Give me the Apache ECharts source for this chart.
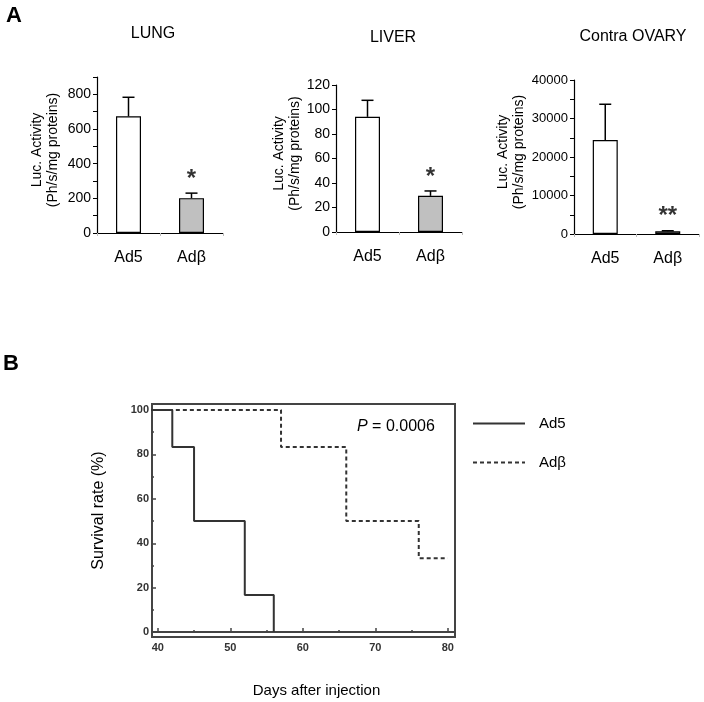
<!DOCTYPE html>
<html>
<head>
<meta charset="utf-8">
<script src="https://cdn.jsdelivr.net/npm/echarts@6/dist/echarts.min.js"></script>
<style>html,body{margin:0;padding:0;background:#fff;}#c{width:704px;height:702px;}</style>
</head>
<body>
<div id="c"></div>
<script>
// ---- data ----
const groups = ['Ad5', 'Adβ'];
const lungMean = [673, 201];
const lungErr = [783, 230];
const liverMean = [94, 29.5];
const liverErr = [107.5, 33.5];
const ovaryMean = [24400, 700];
const ovaryErr = [33700, 850];
const sigMarks = ['', '*'];
const sigMarksOvary = ['', '**'];
const lungTicks = [0, 200, 400, 600, 800];
const liverTicks = [0, 20, 40, 60, 80, 100, 120];
const ovaryTicks = [0, 10000, 20000, 30000, 40000];
// Kaplan-Meier steps [day, survival %]
const survAd5 = [[0,100],[42,100],[42,83.3],[45,83.3],[45,50],[52,50],[52,16.7],[56,16.7],[56,0]];
const survAdb = [[0,100],[57,100],[57,83.3],[66,83.3],[66,50],[76,50],[76,33.3],[80,33.3]];
const dayLabels = [40, 50, 60, 70, 80];
const dayMinor = [45, 55, 65, 75];
const survLabels = [0, 20, 40, 60, 80, 100];
const survMinor = [10, 30, 50, 70, 90];

const FONT = 'Liberation Sans, Arial, sans-serif';

function errRender(params, api) {
  const x = api.value(0), v = api.value(1), t = api.value(2);
  const p0 = api.coord([x, v]);
  const p1 = api.coord([x, t]);
  const hw = 6;
  const st = { stroke: '#000', lineWidth: 1.5 };
  return { type: 'group', children: [
    { type: 'line', shape: { x1: p0[0], y1: p0[1], x2: p1[0], y2: p1[1] }, style: st },
    { type: 'line', shape: { x1: p1[0] - hw, y1: p1[1], x2: p1[0] + hw, y2: p1[1] }, style: st }
  ]};
}

function barX(i) {
  return {
    type: 'category', gridIndex: i, data: groups,
    axisLine: { lineStyle: { color: '#000', width: 1.2 } },
    axisTick: { show: true, length: 3, lineStyle: { color: '#bbb' } },
    axisLabel: { color: '#000', fontSize: 16, fontFamily: FONT, margin: 17 }
  };
}
function barY(i, max, labels, tickVals, fs, gap) {
  return {
    type: 'value', gridIndex: i, min: 0, max: max,
    name: 'Luc. Activity\n(Ph/s/mg proteins)', nameLocation: 'middle', nameRotate: 90, nameGap: gap,
    nameTextStyle: { color: '#000', fontSize: 14, fontFamily: FONT, lineHeight: 16, padding: [0, 0, 0, 10] },
    axisLine: { show: true, lineStyle: { color: '#000', width: 1.2 } },
    axisTick: { show: true, length: 4, customValues: tickVals, lineStyle: { color: '#000' } },
    axisLabel: { color: '#000', fontSize: fs, fontFamily: FONT, margin: 6, customValues: labels,
                 formatter: v => String(v) },
    splitLine: { show: false }
  };
}
function range(a, b, s) { const r = []; for (let v = a; v <= b + 1e-9; v += s) r.push(v); return r; }

function barSeries(i, mean, err, sig, sigSize) {
  return [
    { type: 'bar', xAxisIndex: i, yAxisIndex: i, barWidth: 25, silent: true,
      data: mean.map((v, k) => ({ value: v, itemStyle: { color: k === 0 ? '#fff' : '#c0c0c0' } })),
      itemStyle: { borderColor: '#000', borderWidth: 1.2 } },
    { type: 'custom', xAxisIndex: i, yAxisIndex: i, renderItem: errRender, silent: true,
      data: mean.map((v, k) => [k, v, err[k]]), z: 3 },
    { type: 'scatter', xAxisIndex: i, yAxisIndex: i, symbolSize: 0, silent: true,
      data: err.map((v, k) => [k, v]),
      label: { show: true, position: 'top', distance: 2, color: '#000', fontSize: sigSize, fontFamily: FONT,
               fontWeight: 'bold', formatter: p => sig[p.dataIndex] } }
  ];
}

const chart = echarts.init(document.getElementById('c'), null, { renderer: 'canvas' });
chart.setOption({
  animation: false,
  backgroundColor: '#fff',
  title: [
    { text: 'LUNG', left: 148, top: 21, textAlign: 'center', textStyle: { fontSize: 16, fontWeight: 'normal', color: '#000', fontFamily: FONT } },
    { text: 'LIVER', left: 388, top: 25, textAlign: 'center', textStyle: { fontSize: 16, fontWeight: 'normal', color: '#000', fontFamily: FONT } },
    { text: 'Contra OVARY', left: 628, top: 24, textAlign: 'center', textStyle: { fontSize: 16, fontWeight: 'normal', color: '#000', fontFamily: FONT } },
    { text: 'A', left: 1, top: 0, textStyle: { fontSize: 22, fontWeight: 'bold', color: '#000', fontFamily: FONT } },
    { text: 'B', left: -2, top: 348, textStyle: { fontSize: 22, fontWeight: 'bold', color: '#000', fontFamily: FONT } }
  ],
  grid: [
    { left: 97, top: 77, width: 126, height: 156 },
    { left: 336, top: 85, width: 126, height: 147 },
    { left: 574, top: 80, width: 125, height: 154 },
    { left: 152, top: 404, width: 303, height: 233, show: true, borderColor: '#444', borderWidth: 2 }
  ],
  xAxis: [
    barX(0), barX(1), barX(2),
    { type: 'value', gridIndex: 3, min: 39.2, max: 81,
      name: 'Days after injection', nameLocation: 'middle', nameGap: 46,
      nameTextStyle: { color: '#000', fontSize: 15, fontFamily: FONT, padding: [0, 0, 0, 26] },
      axisLine: { show: true, lineStyle: { color: '#444', width: 2 } },
      axisTick: { show: true, inside: true, length: 4, customValues: dayLabels, lineStyle: { color: '#444', width: 1.5 } },
      axisLabel: { color: '#333', fontSize: 11, fontWeight: 'bold', fontFamily: FONT, margin: 5, customValues: dayLabels },
      splitLine: { show: false } },
    { type: 'value', gridIndex: 3, min: 39.2, max: 81, position: 'bottom',
      axisLine: { show: false },
      axisTick: { show: true, inside: true, length: 2, customValues: dayMinor, lineStyle: { color: '#444', width: 1.5 } },
      axisLabel: { show: false }, splitLine: { show: false } }
  ],
  yAxis: [
    barY(0, 900, lungTicks, range(0, 900, 100), 14, 36),
    barY(1, 120, liverTicks, liverTicks, 14, 32),
    barY(2, 40000, ovaryTicks, range(0, 40000, 5000), 13, 47),
    { type: 'value', gridIndex: 3, min: -2.2, max: 102.7,
      name: 'Survival rate (%)', nameLocation: 'middle', nameRotate: 90, nameGap: 45,
      nameTextStyle: { color: '#000', fontSize: 16, fontFamily: FONT, padding: [0, 0, 0, 20] },
      axisLine: { show: true, lineStyle: { color: '#444', width: 2 } },
      axisTick: { show: true, inside: true, length: 4, customValues: survLabels, lineStyle: { color: '#444', width: 1.5 } },
      axisLabel: { color: '#333', fontSize: 11, fontWeight: 'bold', fontFamily: FONT, margin: 3, customValues: survLabels },
      splitLine: { show: false } },
    { type: 'value', gridIndex: 3, min: -2.2, max: 102.7, position: 'left',
      axisLine: { show: false },
      axisTick: { show: true, inside: true, length: 2, customValues: survMinor, lineStyle: { color: '#444', width: 1.5 } },
      axisLabel: { show: false }, splitLine: { show: false } }
  ],
  legend: {
    data: ['Ad5', 'Adβ'], orient: 'vertical', left: 467, top: 411, itemWidth: 52, itemHeight: 14, itemGap: 24,
    selectedMode: false, itemStyle: { opacity: 0 },
    textStyle: { color: '#000', fontSize: 15, fontFamily: FONT, padding: [0, 0, 0, 9] }
  },
  graphic: [
    { type: 'text', left: 357, top: 419,
      style: { text: '{i|P} = 0.0006', rich: { i: { fontStyle: 'italic', fontSize: 16, fontFamily: FONT, fill: '#000' } },
               fontSize: 16, fontFamily: FONT, fill: '#000' } }
  ],
  series: [
    ...barSeries(0, lungMean, lungErr, sigMarks, 24),
    ...barSeries(1, liverMean, liverErr, sigMarks, 24),
    ...barSeries(2, ovaryMean, ovaryErr, sigMarksOvary, 24),
    { name: 'Ad5', type: 'line', xAxisIndex: 3, yAxisIndex: 3, data: survAd5, symbol: 'none', clip: true,
      lineStyle: { color: '#333', width: 2, type: 'solid' }, itemStyle: { color: '#333' } },
    { name: 'Adβ', type: 'line', xAxisIndex: 3, yAxisIndex: 3, data: survAdb, symbol: 'none', clip: true,
      lineStyle: { color: '#333', width: 2, type: [4, 3] }, itemStyle: { color: '#333' } }
  ]
});
</script>
</body>
</html>
